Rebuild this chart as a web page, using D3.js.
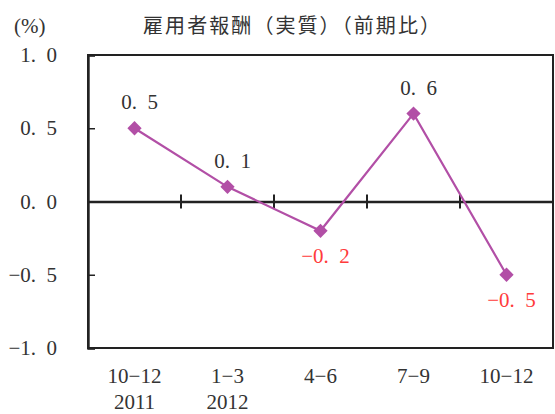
<!DOCTYPE html>
<html><head><meta charset="utf-8">
<script src="https://cdn.jsdelivr.net/npm/d3@7"></script>
<style>body{margin:0;background:#fff}svg{display:block}</style>
</head><body><svg id="c" width="555" height="414"></svg>
<script>
const categories = ["10-12", "1-3", "4-6", "7-9", "10-12"];
const years = ["2011", "2012", "", "", ""];
const values = [0.5, 0.1, -0.2, 0.6, -0.5];
const yTicks = [1.0, 0.5, 0.0, -0.5, -1.0];
const title = "雇用者報酬（実質）（前期比）";
const unit = "(%)";

const svg = d3.select("#c");
const font = "'Liberation Serif','DejaVu Serif','Noto Sans CJK JP',serif";
const L = 88, R = 553, T = 55, B = 348;
const x = d3.scaleBand().domain(d3.range(categories.length)).range([L, R]).padding(0);
const y = d3.scaleLinear().domain([-1, 1]).range([B, T]);
const fmt = v => d3.format(".1f")(v).replace("-", "−").replace(".", ".\u2002");
const lineColor = "#B24FA6";
const axisColor = "#222";
const fs = 21;

// frame
svg.append("rect").attr("x", L).attr("y", T).attr("width", R - L).attr("height", B - T)
  .attr("fill", "none").attr("stroke", axisColor).attr("stroke-width", 2);
// y axis
const yAxis = d3.axisRight(y).tickValues(yTicks).tickSize(7).tickFormat("");
const ya = svg.append("g").attr("transform", `translate(${L},0)`).call(yAxis);
ya.select(".domain").attr("stroke", axisColor).attr("stroke-width", 2.4);
ya.selectAll(".tick line").attr("stroke", axisColor).attr("stroke-width", 1.5);
// y labels
svg.append("g").selectAll("text").data(yTicks).join("text")
  .attr("x", 57).attr("y", d => y(d) + 7).attr("text-anchor", "end")
  .attr("font-family", font).attr("font-size", fs).attr("fill", "#333")
  .text(fmt);
// zero line with category boundary ticks
const xAxis = d3.axisBottom(x).tickSize(0).tickFormat("");
const xa = svg.append("g").attr("transform", `translate(0,${y(0)})`).call(xAxis);
xa.select(".domain").attr("stroke", axisColor).attr("stroke-width", 2.4);
xa.selectAll(".tick").remove();
svg.append("g").selectAll("line").data(d3.range(1, categories.length)).join("line")
  .attr("x1", i => x(i)).attr("x2", i => x(i))
  .attr("y1", y(0) - 7).attr("y2", y(0) + 7)
  .attr("stroke", axisColor).attr("stroke-width", 2);
// x labels
const cx = i => x(i) + x.bandwidth() / 2;
svg.append("g").selectAll("text").data(categories).join("text")
  .attr("x", (d, i) => cx(i)).attr("y", 383).attr("text-anchor", "middle")
  .attr("font-family", font).attr("font-size", fs).attr("fill", "#333")
  .text(d => d.replace("-", "−"));
svg.append("g").selectAll("text").data(years).join("text")
  .attr("x", (d, i) => cx(i)).attr("y", 409).attr("text-anchor", "middle")
  .attr("font-family", font).attr("font-size", fs).attr("fill", "#333")
  .text(d => d);
// line
const line = d3.line().x((d, i) => cx(i)).y(d => y(d));
svg.append("path").datum(values).attr("d", line).attr("fill", "none")
  .attr("stroke", lineColor).attr("stroke-width", 2.2);
svg.append("g").selectAll("path").data(values).join("path")
  .attr("d", d3.symbol(d3.symbolDiamond2, 130)())
  .attr("transform", (d, i) => `translate(${cx(i)},${y(d)})`)
  .attr("fill", lineColor);
// value labels
svg.append("g").selectAll("text").data(values).join("text")
  .attr("x", (d, i) => cx(i) + 5)
  .attr("y", d => d >= 0 ? y(d) - 19 : y(d) + 32)
  .attr("text-anchor", "middle")
  .attr("font-family", font).attr("font-size", fs)
  .attr("fill", d => d >= 0 ? "#333" : "#FF3B3B")
  .text(fmt);
// title & unit
svg.append("text").attr("x", 143).attr("y", 33)
  .attr("textLength", 297).attr("lengthAdjust", "spacing")
  .attr("font-family", "'Noto Sans CJK JP',sans-serif").attr("font-size", 20).attr("fill", "#333").text(title);
svg.append("text").attr("x", 14).attr("y", 33)
  .attr("font-family", font).attr("font-size", 21).attr("fill", "#333").text(unit);
</script></body></html>
